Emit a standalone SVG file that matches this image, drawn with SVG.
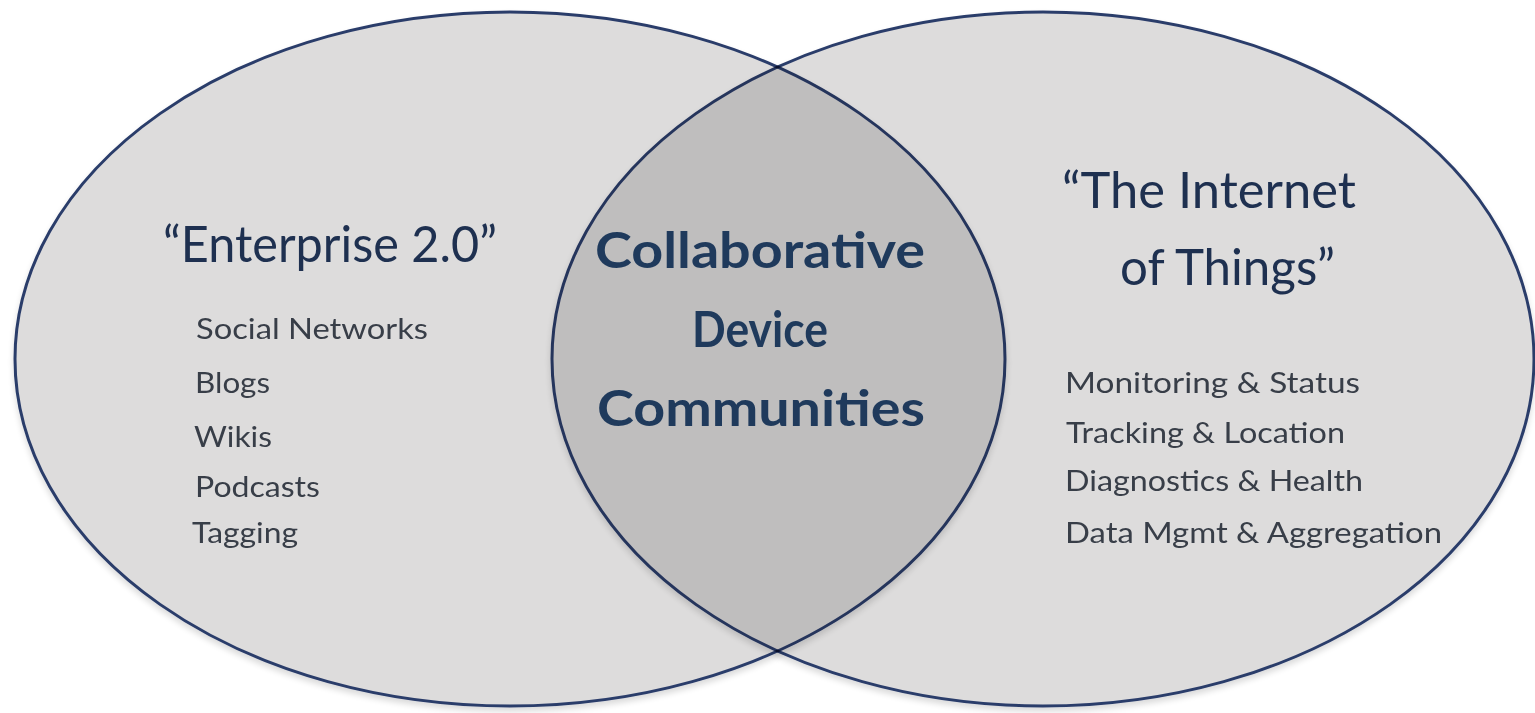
<svg xmlns="http://www.w3.org/2000/svg" width="1535" height="713" viewBox="0 0 1535 713">
<style>
.set{mix-blend-mode:multiply}
.circle{fill:#dddcdc;stroke:#2b3d6b;stroke-width:3}
.title{font-family:Lato,"Open Sans",sans-serif;font-size:50px;fill:#1e3050}
.center{font-family:Lato,"Open Sans",sans-serif;font-size:50px;font-weight:bold;fill:#1f3a5c;text-anchor:middle}
.item{font-family:Lato,"Open Sans",sans-serif;font-size:29px;fill:#383e48}
</style>
<defs>
<filter id="sh" x="-5%" y="-5%" width="110%" height="112%">
<feGaussianBlur in="SourceAlpha" stdDeviation="3"/>
<feOffset dx="0" dy="4"/>
<feComponentTransfer><feFuncA type="linear" slope="0.15"/></feComponentTransfer>
<feMerge><feMergeNode/><feMergeNode in="SourceGraphic"/></feMerge>
</filter>
</defs>
<rect width="1535" height="713" fill="#ffffff"/>
<g id="left-set" class="set" filter="url(#sh)">
<ellipse class="circle" cx="510" cy="359" rx="495" ry="347"/>
</g>
<g id="right-set" class="set" filter="url(#sh)">
<ellipse class="circle" cx="1043" cy="359" rx="491" ry="347"/>
</g>
<g id="connectors"></g>
<g id="left-text">
<text class="title" x="163" y="262" textLength="334" lengthAdjust="spacingAndGlyphs">“Enterprise 2.0”</text>
<text class="item" x="196" y="339" textLength="232" lengthAdjust="spacingAndGlyphs">Social Networks</text>
<text class="item" x="195" y="393" textLength="75" lengthAdjust="spacingAndGlyphs">Blogs</text>
<text class="item" x="194" y="447" textLength="78" lengthAdjust="spacingAndGlyphs">Wikis</text>
<text class="item" x="195" y="497" textLength="125" lengthAdjust="spacingAndGlyphs">Podcasts</text>
<text class="item" x="192" y="543" textLength="106" lengthAdjust="spacingAndGlyphs">Tagging</text>
</g>
<g id="center-text">
<text class="center" x="760" y="268" textLength="330" lengthAdjust="spacingAndGlyphs">Collaborative</text>
<text class="center" x="760" y="347" textLength="136" lengthAdjust="spacingAndGlyphs">Device</text>
<text class="center" x="761" y="426" textLength="328" lengthAdjust="spacingAndGlyphs">Communities</text>
</g>
<g id="right-text">
<text class="title" x="1062" y="208" textLength="294" lengthAdjust="spacingAndGlyphs">“The Internet</text>
<text class="title" x="1120" y="285" textLength="215" lengthAdjust="spacingAndGlyphs">of Things”</text>
<text class="item" x="1065" y="393" textLength="295" lengthAdjust="spacingAndGlyphs">Monitoring &amp; Status</text>
<text class="item" x="1066" y="443" textLength="279" lengthAdjust="spacingAndGlyphs">Tracking &amp; Location</text>
<text class="item" x="1065" y="491" textLength="298" lengthAdjust="spacingAndGlyphs">Diagnostics &amp; Health</text>
<text class="item" x="1065" y="543" textLength="377" lengthAdjust="spacingAndGlyphs">Data Mgmt &amp; Aggregation</text>
</g>
</svg>
